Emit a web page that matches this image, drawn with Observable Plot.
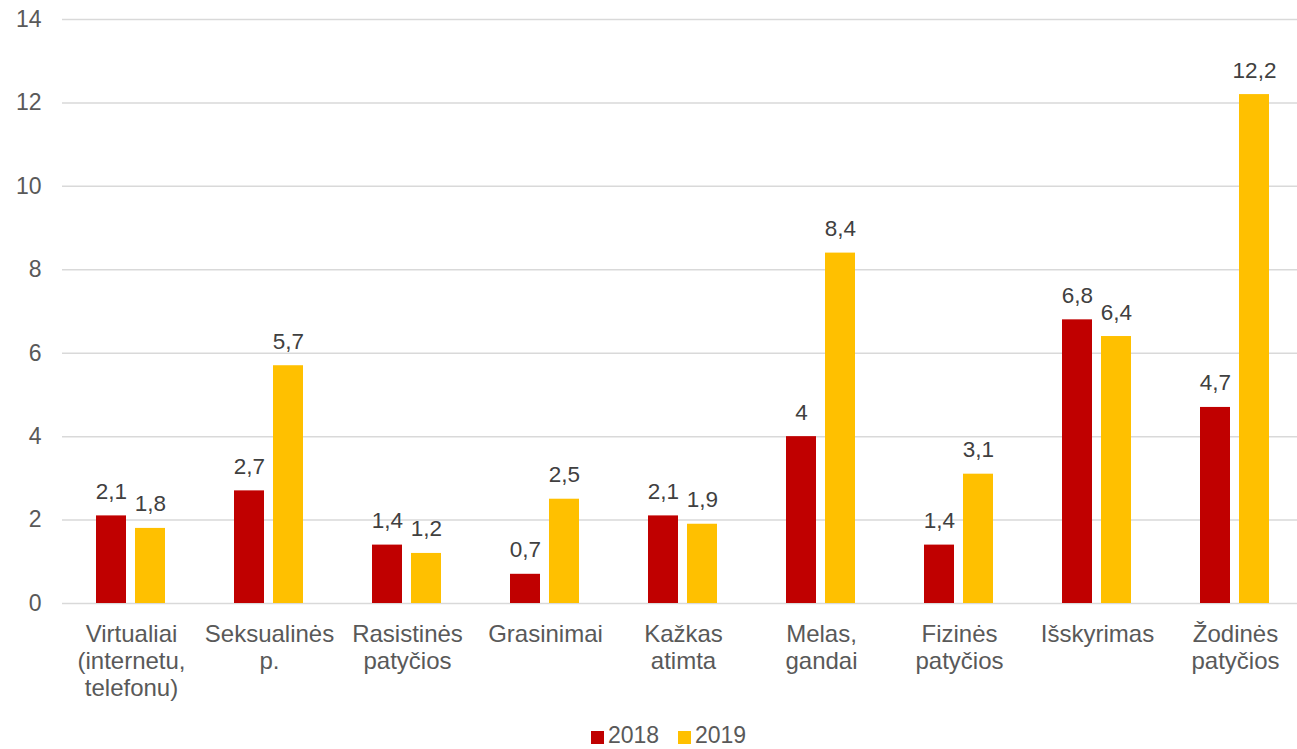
<!DOCTYPE html>
<html><head><meta charset="utf-8">
<script src="https://cdn.jsdelivr.net/npm/d3@7"></script>
<script src="https://cdn.jsdelivr.net/npm/@observablehq/plot@0.6"></script>
<style>
html,body{margin:0;padding:0;overflow:hidden;background:#fff;}
#chart{position:relative;width:1297px;height:749px;overflow:hidden;}
#chart svg{position:absolute;left:0;top:0;max-width:none !important;width:1307px;height:715px;}
.lg{position:absolute;top:722.5px;font-family:"Liberation Sans", Arial, sans-serif;font-size:23px;line-height:25.5px;color:#595959;white-space:nowrap;}
.sw{position:absolute;width:13px;height:13px;top:730.5px;}
</style></head><body><div id="chart"></div>
<script>
const categories = [
  "Virtualiai\n(internetu,\ntelefonu)",
  "Seksualinės\np.",
  "Rasistinės\npatyčios",
  "Grasinimai",
  "Kažkas\natimta",
  "Melas,\ngandai",
  "Fizinės\npatyčios",
  "Išskyrimas",
  "Žodinės\npatyčios"
];
const values2018 = [2.1, 2.7, 1.4, 0.7, 2.1, 4, 1.4, 6.8, 4.7];
const values2019 = [1.8, 5.7, 1.2, 2.5, 1.9, 8.4, 3.1, 6.4, 12.2];
const years = ["2018", "2019"];
const colors = ["#C00000", "#FFC000"];
const yTicks = [0, 2, 4, 6, 8, 10, 12, 14];

const data = categories.flatMap((c, i) => [
  {cat: c, year: years[0], value: values2018[i]},
  {cat: c, year: years[1], value: values2019[i]}
]);
const fmt = v => String(v).replace(".", ",");

const plot = Plot.plot({
  width: 1307, height: 715,
  marginLeft: 58, marginRight: 0, marginTop: 19, marginBottom: 112,
  style: {fontFamily: '"Liberation Sans", Arial, sans-serif', fontSize: "23px", color: "#595959", background: "transparent", maxWidth: "none"},
  fx: {domain: categories, padding: 0, label: null, axis: null},
  x: {domain: years, paddingInner: 0.22, paddingOuter: 0.857, axis: null},
  y: {domain: [0, 14], axis: null},
  color: {domain: years, range: colors},
  marks: [
    Plot.ruleY(yTicks, {stroke: "#d9d9d9", strokeWidth: 1.5}),
    Plot.barY(data, {fx: "cat", x: "year", y: "value", fill: "year"}),
    Plot.text(data, {fx: "cat", x: "year", y: "value", text: d => fmt(d.value), dy: -17, lineAnchor: "bottom", fill: "#404040", fontSize: 22.5}),
    Plot.axisY(yTicks, {tickSize: 0, tickPadding: 21, label: null, fill: "#595959", fontSize: 23}),
    Plot.axisFx({anchor: "bottom", tickSize: 0, tickPadding: 19, label: null, lineHeight: 1.13, fontSize: 24, fill: "#595959"})
  ]
});
const chart = document.getElementById("chart");
chart.appendChild(plot);

const legendPos = [{sw: 591, tx: 608}, {sw: 678, tx: 695}];
years.forEach((y, i) => {
  const s = document.createElement("span");
  s.className = "sw";
  s.style.left = legendPos[i].sw + "px";
  s.style.background = colors[i];
  chart.appendChild(s);
  const t = document.createElement("span");
  t.className = "lg";
  t.style.left = legendPos[i].tx + "px";
  t.textContent = y;
  chart.appendChild(t);
});
</script>
</body></html>
